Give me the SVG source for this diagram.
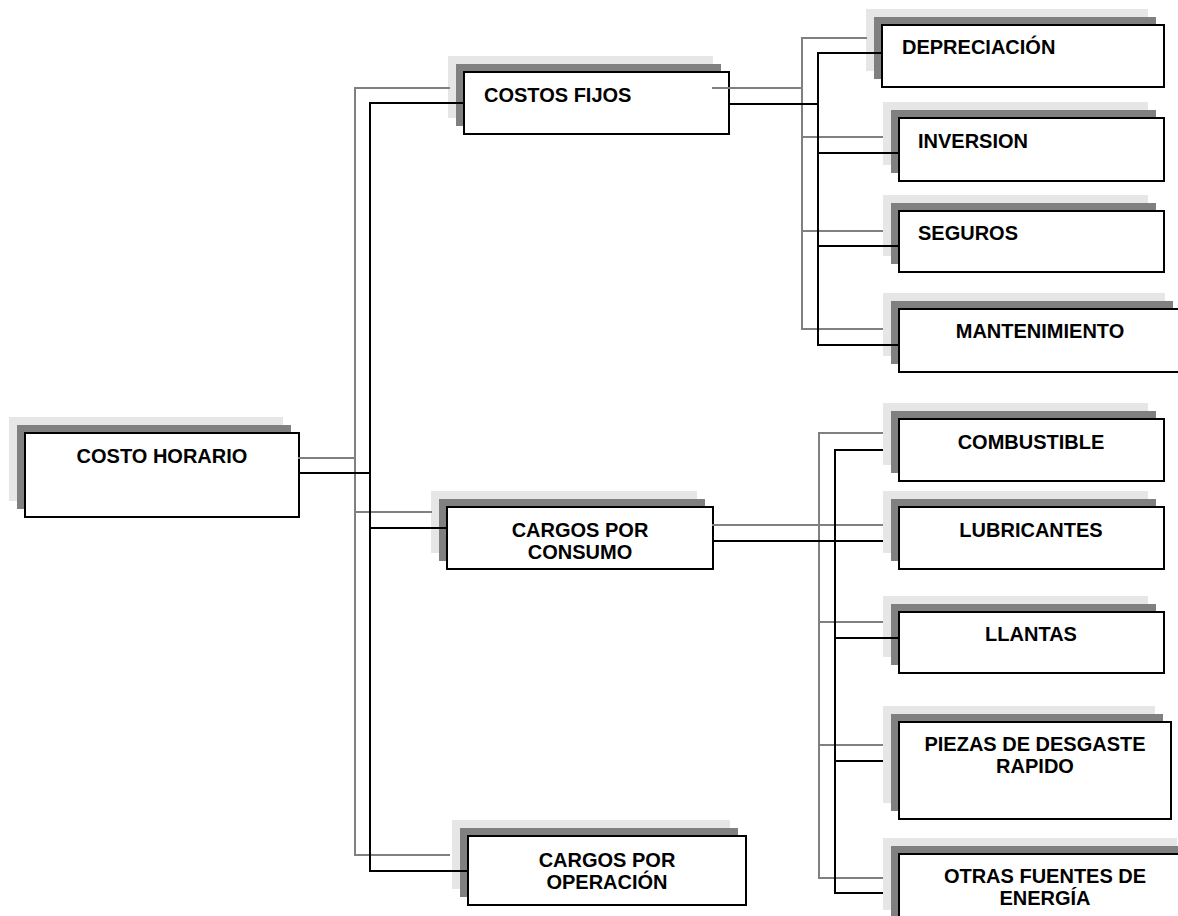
<svg xmlns="http://www.w3.org/2000/svg" width="1178" height="916" viewBox="0 0 1178 916">
<style>
.l{fill:#e6e6e6}
.d{fill:#808080}
.w{fill:#fff;stroke:#000;stroke-width:2}
.t{font-family:"Liberation Sans",Arial,sans-serif;font-weight:bold;font-size:20px;fill:#000}
.m{text-anchor:middle}
.g{fill:none;stroke:#808080;stroke-width:2;stroke-linecap:square}
.k{fill:none;stroke:#000;stroke-width:2;stroke-linecap:square}
</style>
<rect width="1178" height="916" fill="#fff"/>
<g id="root">
<rect class="l" x="9" y="417" width="274" height="84"/><rect class="d" x="17" y="425" width="274" height="84"/><rect class="w" x="25" y="433" width="274" height="84"/>
<text class="t m" x="162" y="463">COSTO HORARIO</text>
</g>
<g id="costos-fijos">
<rect class="l" x="448" y="56" width="265" height="62"/><rect class="d" x="456" y="64" width="265" height="62"/><rect class="w" x="464" y="72" width="265" height="62"/>
<text class="t" x="484" y="102">COSTOS FIJOS</text>
</g>
<g id="depreciacion">
<rect class="l" x="866" y="9" width="282" height="62"/><rect class="d" x="874" y="17" width="282" height="62"/><rect class="w" x="882" y="25" width="282" height="62"/>
<text class="t" x="902" y="54">DEPRECIACIÓN</text>
</g>
<g id="inversion">
<rect class="l" x="883" y="102" width="265" height="63"/><rect class="d" x="891" y="110" width="265" height="63"/><rect class="w" x="899" y="118" width="265" height="63"/>
<text class="t" x="918" y="148">INVERSION</text>
</g>
<g id="seguros">
<rect class="l" x="883" y="195" width="265" height="61"/><rect class="d" x="891" y="203" width="265" height="61"/><rect class="w" x="899" y="211" width="265" height="61"/>
<text class="t" x="918" y="240">SEGUROS</text>
</g>
<g id="mantenimiento">
<rect class="l" x="883" y="293" width="282" height="63"/><rect class="d" x="891" y="301" width="282" height="63"/><rect class="w" x="899" y="309" width="282" height="63"/>
<text class="t m" x="1040" y="338">MANTENIMIENTO</text>
</g>
<g id="cargos-consumo">
<rect class="l" x="431" y="491" width="266" height="62"/><rect class="d" x="439" y="499" width="266" height="62"/><rect class="w" x="447" y="507" width="266" height="62"/>
<text class="t m" x="580" y="537">CARGOS POR</text>
<text class="t m" x="580" y="559">CONSUMO</text>
</g>
<g id="combustible">
<rect class="l" x="883" y="403" width="265" height="62"/><rect class="d" x="891" y="411" width="265" height="62"/><rect class="w" x="899" y="419" width="265" height="62"/>
<text class="t m" x="1031" y="449">COMBUSTIBLE</text>
</g>
<g id="lubricantes">
<rect class="l" x="883" y="491" width="265" height="62"/><rect class="d" x="891" y="499" width="265" height="62"/><rect class="w" x="899" y="507" width="265" height="62"/>
<text class="t m" x="1031" y="537">LUBRICANTES</text>
</g>
<g id="llantas">
<rect class="l" x="883" y="596" width="265" height="61"/><rect class="d" x="891" y="604" width="265" height="61"/><rect class="w" x="899" y="612" width="265" height="61"/>
<text class="t m" x="1031" y="641">LLANTAS</text>
</g>
<g id="piezas">
<rect class="l" x="883" y="706" width="272" height="97"/><rect class="d" x="891" y="714" width="272" height="97"/><rect class="w" x="899" y="722" width="272" height="97"/>
<text class="t m" x="1035" y="751">PIEZAS DE DESGASTE</text>
<text class="t m" x="1035" y="773">RAPIDO</text>
</g>
<g id="otras-fuentes">
<rect class="l" x="883" y="838" width="294" height="72"/><rect class="d" x="891" y="846" width="294" height="72"/><rect class="w" x="899" y="854" width="294" height="72"/>
<text class="t m" x="1045" y="883">OTRAS FUENTES DE</text>
<text class="t m" x="1045" y="905">ENERGÍA</text>
</g>
<g id="cargos-operacion">
<rect class="l" x="452" y="820" width="278" height="69"/><rect class="d" x="460" y="828" width="278" height="69"/><rect class="w" x="468" y="836" width="278" height="69"/>
<text class="t m" x="607" y="867">CARGOS POR</text>
<text class="t m" x="607" y="889">OPERACIÓN</text>
</g>
<g id="connectors">
<path class="g" d="M299,458H355M449,88H355V855H449M355,512H431M713,88H802M866,38H802V329H882M802,137H882M802,231H882M713,525H882M882,433H819V878H882M819,622H882M819,745H882"/>
<path class="k" d="M299,473H370M464,103H370V871H468M370,528H447M729,104H818M882,53H818V345H899M818,153H899M818,246H899M713,541H882M882,450H835V893H882M835,638H899M835,761H882"/>
</g>
</svg>
